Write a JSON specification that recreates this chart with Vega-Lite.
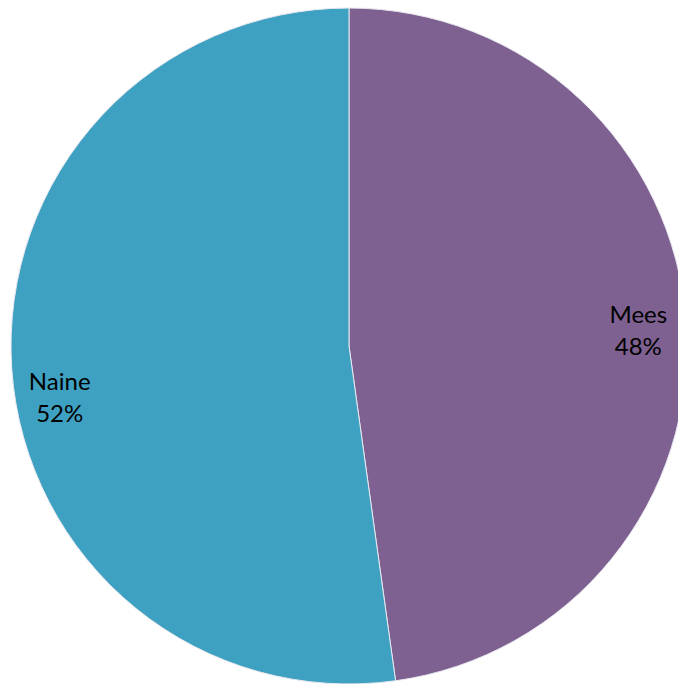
{
  "$schema": "https://vega.github.io/schema/vega-lite/v6.json",
  "autosize": {"type": "none"},
  "padding": 0,
  "width": 698,
  "height": 692,
  "background": "white",
  "config": {"view": {"stroke": null}},
  "data": {"values": [
    {"category": "Mees", "value": 0.478},
    {"category": "Naine", "value": 0.522}
  ]},
  "layer": [
    {
      "mark": {"type": "arc", "radius": 338, "stroke": "#e8e8f0", "strokeWidth": 1},
      "encoding": {
        "theta": {"field": "value", "type": "quantitative", "stack": true, "scale": {"domain": [0, 1]}},
        "color": {"field": "category", "type": "nominal", "scale": {"domain": ["Mees", "Naine"], "range": ["#7E6190", "#3FA1C1"]}, "legend": null},
        "order": {"field": "category", "sort": "ascending"}
      }
    },
    {
      "transform": [
        {"stack": "value", "groupby": [], "sort": [{"field": "category", "order": "ascending"}], "as": ["v0", "v1"]},
        {"calculate": "(datum.v0 + datum.v1) / 2", "as": "mid"},
        {"calculate": "datum.category + '\\n' + format(datum.value, '.0%')", "as": "label"},
        {"filter": "datum.category == 'Mees'"}
      ],
      "mark": {"type": "text", "radius": 290, "dy": -10, "font": "Lato", "fontSize": 24, "lineHeight": 32, "lineBreak": "\n", "color": "black", "align": "center", "baseline": "middle"},
      "encoding": {
        "theta": {"field": "mid", "type": "quantitative", "stack": null},
        "text": {"field": "label"}
      }
    },
    {
      "transform": [
        {"stack": "value", "groupby": [], "sort": [{"field": "category", "order": "ascending"}], "as": ["v0", "v1"]},
        {"calculate": "(datum.v0 + datum.v1) / 2", "as": "mid"},
        {"calculate": "datum.category + '\\n' + format(datum.value, '.0%')", "as": "label"},
        {"filter": "datum.category == 'Naine'"}
      ],
      "mark": {"type": "text", "radius": 290, "dy": 17, "font": "Lato", "fontSize": 24, "lineHeight": 32, "lineBreak": "\n", "color": "black", "align": "center", "baseline": "middle"},
      "encoding": {
        "theta": {"field": "mid", "type": "quantitative", "stack": null},
        "text": {"field": "label"}
      }
    }
  ]
}
